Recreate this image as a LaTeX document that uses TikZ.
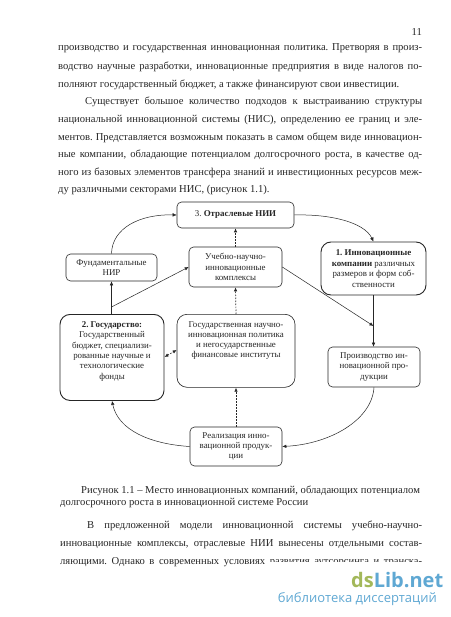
\documentclass[tikz,border=0pt]{standalone}
\usepackage{fontspec}
\setmainfont{Liberation Serif}
\newfontfamily\wmfont{Open Sans}
\usetikzlibrary{arrows.meta}
\definecolor{ink}{gray}{0.15}
\definecolor{wmgreen}{HTML}{A3B85A}
\definecolor{wmblue}{HTML}{5FA8D3}
\tikzset{
  x=1pt,y=-1pt,
  every node/.style={text=ink},
  bx/.style={draw=ink,line width=.6pt,rounded corners=4.5pt,inner sep=0pt,align=center,font=\fontsize{8.9}{10.2}\selectfont},
  bxheavy/.style={bx,line width=.9pt,rounded corners=10pt},
  bxbig/.style={bx,rounded corners=10pt},
  conn/.style={draw=ink,line width=.5pt,-{Latex[length=4pt,width=3.5pt]}},
  dconn/.style={conn,dash pattern=on 1.5pt off 1.5pt,line width=.7pt},
  bodyline/.style={anchor=west,inner sep=0pt,font=\fontsize{10.6}{12}\selectfont},
  captline/.style={anchor=west,inner sep=0pt,font=\fontsize{10.6}{12}\selectfont},
}
\newcommand{\jl}[1]{\makebox[364pt][s]{#1}}
\begin{document}
\begin{tikzpicture}
\frenchspacing
\useasboundingbox (0,0) rectangle (450,617);
\fill[white] (0,0) rectangle (450,617);
\node[anchor=east,inner sep=0pt,font=\fontsize{10.6}{12}\selectfont] (pg) at (422,32.5) {11};
\node[bodyline] (t1) at (58,48.5) {\jl{производство и государственная инновационная политика. Претворяя в произ-}};
\node[bodyline] (t2) at (58,66.5) {\jl{водство научные разработки, инновационные предприятия в виде налогов по-}};
\node[bodyline] (t3) at (58,84.5) {полняют государственный бюджет, а также финансируют свои инвестиции.};
\node[bodyline] (t4) at (85,102) {\makebox[337pt][s]{Существует большое количество подходов к выстраиванию структуры}};
\node[bodyline] (t5) at (58,120) {\jl{национальной инновационной системы (НИС), определению ее границ и эле-}};
\node[bodyline] (t6) at (58,137.5) {\jl{ментов. Представляется возможным показать в самом общем виде инновацион-}};
\node[bodyline] (t7) at (58,155) {\jl{ные компании, обладающие потенциалом долгосрочного роста, в качестве од-}};
\node[bodyline] (t8) at (58,172.5) {\jl{ного из базовых элементов трансфера знаний и инвестиционных ресурсов меж-}};
\node[bodyline] (t9) at (58,190) {ду различными секторами НИС, (рисунок 1.1).};

\node[bx,minimum width=117pt,minimum height=26pt] (top) at (235.5,215) {3. \textbf{Отраслевые НИИ}};
\node[bx,minimum width=91pt,minimum height=27pt] (fund) at (111.5,267.5) {Фундаментальные\\НИР};
\node[bx,minimum width=93pt,minimum height=40pt] (uch) at (235.5,267) {Учебно-научно-\\инновационные\\комплексы};
\node[bxheavy,minimum width=105pt,minimum height=53pt,font=\fontsize{8.9}{10.6}\selectfont] (inn) at (373.5,268.5) {\textbf{1. Инновационные}\\\textbf{компании} различных\\размеров и форм соб-\\ственности};
\node[bxheavy,minimum width=104pt,minimum height=86pt,anchor=north] (gos) at (112,314) {};
\node[anchor=north,inner sep=0pt,align=center,font=\fontsize{8.9}{10.3}\selectfont] (gost) at (112,321.5) {\textbf{2. Государство:}\\Государственный\\бюджет, специализи-\\рованные научные и\\технологические\\фонды};
\node[bxbig,minimum width=118pt,minimum height=73pt,anchor=north] (cen) at (236,314) {};
\node[anchor=north,inner sep=0pt,align=center,font=\fontsize{8.9}{10.2}\selectfont] (cent) at (236,321) {Государственная научно-\\инновационная политика\\и негосударственные\\финансовые институты};
\node[bx,minimum width=92pt,minimum height=40pt] (pro) at (374,367) {Производство ин-\\новационной про-\\дукции};
\node[bx,minimum width=92pt,minimum height=39pt] (rea) at (236,446.5) {Реализация инно-\\вационной продук-\\ции};

\coordinate (split) at (111.5,307);
\coordinate (meet) at (373.5,326);
\draw[conn] (gos.north -| split) -- (fund.south -| split);
\draw[conn] (split) -- (uch.west);
\draw[conn] (fund.north) .. controls (112,228) and (140,214) .. (top.west);
\draw[conn] (top.east) .. controls (330,214) and (364,222) .. (inn.north);
\draw[conn] (inn.south) -- (pro.north -| inn.south);
\draw[conn] (uch.east) -- (meet);
\draw[conn] (pro.south) .. controls (372,420) and (330,444) .. (rea.east);
\draw[conn] (rea.west) .. controls (150,444) and (118,430) .. (gos.south);
\draw[dconn] (rea.north) -- (cen.south);
\draw[dconn] (cen.north) -- (uch.south);
\draw[dconn] (uch.north) -- (top.south);
\draw[dconn,{Latex[length=4pt,width=3.5pt]}-{Latex[length=4pt,width=3.5pt]}] (gos.east |- 0,357) -- (cen.west |- 0,350);

\node[captline] (c1) at (81,490.5) {Рисунок 1.1 – Место инновационных компаний, обладающих потенциалом};
\node[captline] (c2) at (60,502.5) {долгосрочного роста в инновационной системе России};
\node[bodyline] (b1) at (87,526) {\makebox[335pt][s]{В предложенной модели инновационной системы учебно-научно-}};
\node[bodyline] (b2) at (60,544) {\makebox[362pt][s]{инновационные комплексы, отраслевые НИИ вынесены отдельными состав-}};
\begin{scope}
\clip (0,550) -- (267,550) -- (267,567) -- (0,567) -- cycle (267,550) rectangle (450,561.5);
\node[bodyline] (b3) at (60,562) {\makebox[362pt][s]{ляющими. Однако в современных условиях развития аутсорсинга и транска-}};
\end{scope}
\node[anchor=base west,inner sep=0pt,font=\wmfont\bfseries\fontsize{20}{24}\selectfont] (wm1) at (351,587) {\textcolor{wmgreen}{ds}\textcolor{wmblue}{Lib.net}};
\node[anchor=base east,inner sep=0pt,text=wmblue,font=\wmfont\fontsize{13}{15}\selectfont] (wm2) at (437,602) {библиотека диссертаций};
\end{tikzpicture}
\end{document}
